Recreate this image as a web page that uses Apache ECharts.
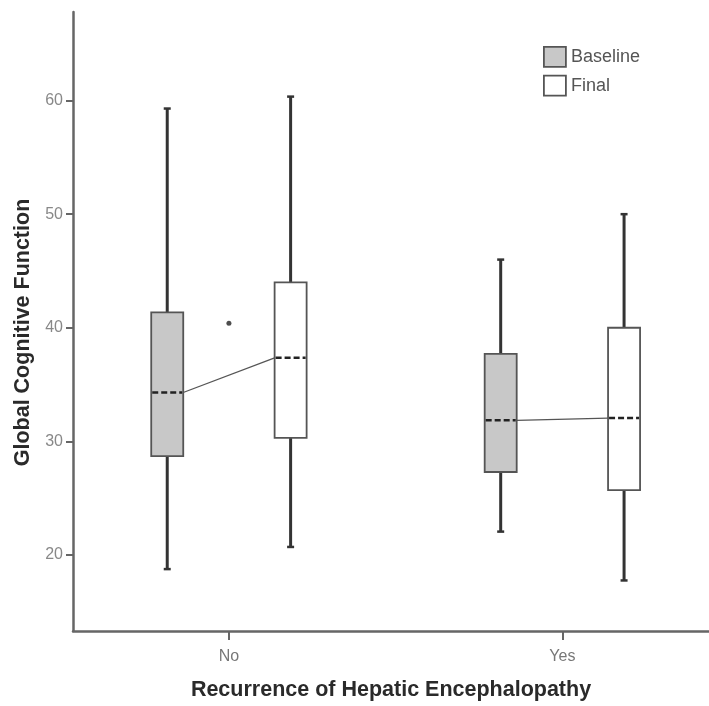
<!DOCTYPE html>
<html>
<head>
<meta charset="utf-8">
<script src="https://cdn.jsdelivr.net/npm/echarts@6/dist/echarts.min.js"></script>
<style>html,body{margin:0;padding:0;background:#fff}#c{width:709px;height:706px}</style>
</head>
<body>
<div id="c"></div>
<script>
// ---- data ----
const categories = ['No', 'Yes'];
// [min, Q1, median, Q3, max]
const baselineStats = [
  [18.75, 28.7, 34.3, 41.35, 59.3],
  [22.05, 27.3, 31.85, 37.7, 46.0]
];
const finalStats = [
  [20.7, 30.3, 37.35, 44.0, 60.35],
  [17.75, 25.7, 32.05, 40.0, 50.0]
];
// [category index, value]
const outliers = [[0, 40.4]];
const yTicks = [20, 30, 40, 50, 60];

// ---- layout constants ----
const OFFSET = 0.185;   // box offset from category centre (axis units)
const BOX_W = 0.096;    // box width (axis units)

const FONT = '"Liberation Sans", Arial, sans-serif';

function boxRender(offset, fill) {
  return function (params, api) {
    const xv = api.value(0) + offset;
    const cx = api.coord([xv, 0])[0];
    const yMin = api.coord([xv, api.value(1)])[1];
    const yQ1 = api.coord([xv, api.value(2)])[1];
    const yMed = api.coord([xv, api.value(3)])[1];
    const yQ3 = api.coord([xv, api.value(4)])[1];
    const yMax = api.coord([xv, api.value(5)])[1];
    const hw = api.size([BOX_W, 0])[0] / 2;
    const wStyle = { stroke: '#333', lineWidth: 3 };
    const cap = 3.5;
    return {
      type: 'group',
      children: [
        { type: 'line', shape: { x1: cx, y1: yMax, x2: cx, y2: yQ3 }, style: wStyle },
        { type: 'line', shape: { x1: cx, y1: yQ1, x2: cx, y2: yMin }, style: wStyle },
        { type: 'line', shape: { x1: cx - cap, y1: yMax, x2: cx + cap, y2: yMax }, style: { stroke: '#333', lineWidth: 2.5 } },
        { type: 'line', shape: { x1: cx - cap, y1: yMin, x2: cx + cap, y2: yMin }, style: { stroke: '#333', lineWidth: 2.5 } },
        { type: 'rect', shape: { x: cx - hw, y: yQ3, width: hw * 2, height: yQ1 - yQ3 },
          style: { fill: fill, stroke: '#555', lineWidth: 1.8 } },
        { type: 'line', shape: { x1: cx - hw + 1, y1: yMed, x2: cx + hw - 1, y2: yMed },
          style: { stroke: '#222', lineWidth: 2.5, lineDash: [6, 3] } }
      ]
    };
  };
}

const baseData = baselineStats.map((s, i) => [i].concat(s));
const finalData = finalStats.map((s, i) => [i].concat(s));
const linkData = baselineStats.map((s, i) => [i, s[2], finalStats[i][2]]);

const chart = echarts.init(document.getElementById('c'), null, { renderer: 'canvas' });
chart.setOption({
  animation: false,
  backgroundColor: '#ffffff',
  textStyle: { fontFamily: FONT },
  grid: { left: 73, right: 0, top: 12, bottom: 73, containLabel: false },
  legend: {
    orient: 'vertical',
    left: 543, top: 46, padding: 0,
    itemWidth: 22, itemHeight: 20, itemGap: 7,
    textStyle: { fontFamily: FONT, fontSize: 18, color: '#555' },
    data: [
      { name: 'Baseline', icon: 'rect', itemStyle: { color: '#c8c8c8', borderColor: '#555', borderWidth: 1.8 } },
      { name: 'Final', icon: 'rect', itemStyle: { color: '#ffffff', borderColor: '#555', borderWidth: 1.8 } }
    ]
  },
  xAxis: {
    type: 'value',
    min: -0.4676, max: 1.4397,
    name: 'Recurrence of Hepatic Encephalopathy',
    nameLocation: 'middle', nameGap: 48,
    nameTextStyle: { fontFamily: FONT, fontSize: 21.5, fontWeight: 'bold', color: '#2a2a2a' },
    axisLine: { show: true, onZero: false, lineStyle: { color: '#666', width: 2.5 } },
    axisTick: { show: true, customValues: [0, 1], length: 9, lineStyle: { color: '#666', width: 2 } },
    axisLabel: { customValues: [0, 1], margin: 18, fontSize: 16, color: '#777',
      formatter: v => categories[Math.round(v)] },
    splitLine: { show: false }
  },
  yAxis: {
    type: 'value',
    min: 13.3, max: 67.8,
    name: 'Global Cognitive Function',
    nameLocation: 'middle', nameGap: 37, nameRotate: 90,
    nameTextStyle: { fontFamily: FONT, fontSize: 21.5, fontWeight: 'bold', color: '#2a2a2a', padding: [0, 22, 0, 0] },
    axisLine: { show: true, onZero: false, lineStyle: { color: '#666', width: 2.5 } },
    axisTick: { show: true, customValues: yTicks, length: 7, lineStyle: { color: '#666', width: 2 } },
    axisLabel: { customValues: yTicks, margin: 10, fontSize: 16, color: '#888' },
    splitLine: { show: false }
  },
  series: [
    {
      name: 'Link', type: 'custom', silent: true, z: 1,
      renderItem: function (params, api) {
        const x0 = api.value(0);
        const hw = api.size([BOX_W, 0])[0] / 2;
        const p1 = api.coord([x0 - OFFSET, api.value(1)]);
        const p2 = api.coord([x0 + OFFSET, api.value(2)]);
        return { type: 'line', shape: { x1: p1[0] + hw, y1: p1[1], x2: p2[0] - hw, y2: p2[1] },
          style: { stroke: '#555', lineWidth: 1.3 } };
      },
      encode: { x: 0, y: [1, 2] },
      data: linkData
    },
    {
      name: 'Baseline', type: 'custom', z: 2,
      itemStyle: { color: '#c8c8c8' },
      renderItem: boxRender(-OFFSET, '#c8c8c8'),
      encode: { x: 0, y: [1, 2, 3, 4, 5] },
      data: baseData
    },
    {
      name: 'Final', type: 'custom', z: 2,
      itemStyle: { color: '#ffffff' },
      renderItem: boxRender(OFFSET, '#ffffff'),
      encode: { x: 0, y: [1, 2, 3, 4, 5] },
      data: finalData
    },
    {
      name: 'Outlier', type: 'scatter', z: 3, silent: true,
      symbol: 'circle', symbolSize: 5,
      itemStyle: { color: '#222' },
      data: outliers
    }
  ]
});
</script>
</body>
</html>
